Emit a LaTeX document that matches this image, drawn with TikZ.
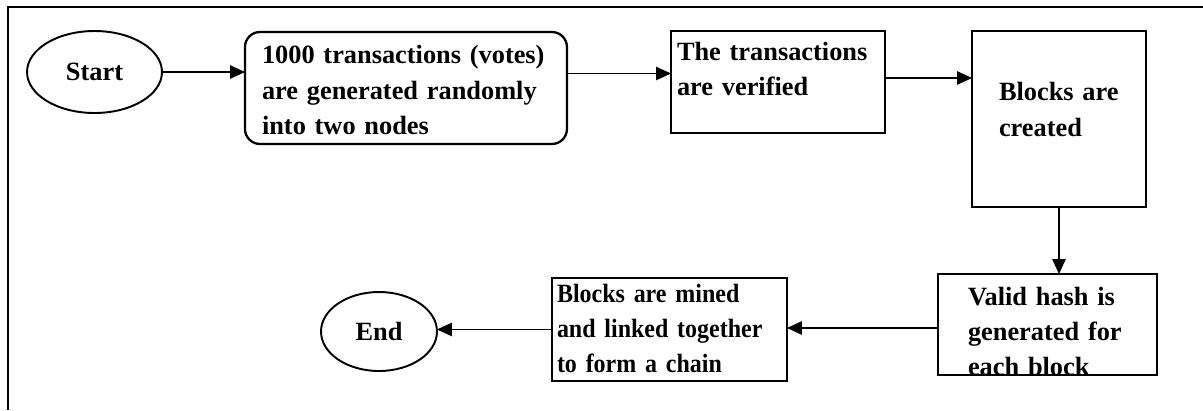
\documentclass[tikz,border=0pt]{standalone}
\usepackage{fontspec}
\setmainfont{Liberation Serif}
\newfontfamily\narrowserif{Liberation Serif}[FakeStretch=0.91]
\usetikzlibrary{arrows.meta, shapes.geometric, positioning}

\begin{document}
\begin{tikzpicture}[x=0.02cm, y=-0.02cm,
  every node/.style={font=\fontsize{15pt}{20.2pt}\selectfont\bfseries},
  narrow/.style={font=\narrowserif\fontsize{15pt}{20.2pt}\selectfont\bfseries},
  terminal/.style={draw, ellipse, line width=1.1pt, inner sep=0pt, outer sep=0pt},
  stage/.style={draw, rectangle, line width=1.3pt, anchor=north west, align=left,
    inner ysep=0pt, outer sep=0pt},
  flow/.style={-{Triangle[length=0.3cm, width=0.27cm]}, line width=0.6pt}]

% Page size
\useasboundingbox (0,0) rectangle (1203,410);

% Frame
\draw[line width=1.1pt] (8,410) -- (8,7) -- (1203,7);

% Top row
\node[terminal, minimum width=2.7cm, minimum height=1.64cm] (start) at (94.5,72) {Start};
\node[stage, rounded corners=0.3cm, text width=5.76cm, inner xsep=0.34cm,
  text height=0.64cm, text depth=1.6cm] (gen) at (245,32)
  {1000 transactions (votes)\\are generated randomly\\into two nodes};
\node[stage, text width=4.04cm, inner xsep=0.12cm,
  text height=0.58cm, text depth=1.46cm] (check) at (671,31)
  {The transactions\\are verified};
\node[stage, text width=2.4cm, inner xsep=0.54cm,
  text height=1.4cm, text depth=2.12cm] (blocks) at (972,31)
  {Blocks are\\created};

% Bottom row
\node[stage, text width=3.18cm, inner xsep=0.6cm,
  text height=0.62cm, text depth=1.4cm] (hash) at (938,274)
  {Valid hash is\\generated for\\each block};
\node[stage, narrow, text width=4.5cm, inner xsep=0.1cm,
  text height=0.48cm, text depth=1.58cm] (mined) at (552,278)
  {Blocks are mined\\and linked together\\to form a chain};
\node[terminal, minimum width=2.32cm, minimum height=1.58cm] (end) at (379,331.5) {End};

% Arrows
\coordinate (g2c) at ([yshift=0.29cm]gen.east);
\coordinate (c2b) at ([yshift=0.08cm]check.east);
\coordinate (h2m) at ([yshift=-0.07cm]hash.west);
\draw[flow] (start.east) -- (start.east -| gen.west);
\draw[flow] (g2c) -- (g2c -| check.west);
\draw[flow] (c2b) -- (c2b -| blocks.west);
\draw[flow] (blocks.south) -- (blocks.south |- hash.north);
\draw[flow] (h2m) -- (h2m -| mined.east);
\draw[flow] (mined.west) -- (mined.west -| end.east);

\end{tikzpicture}
\end{document}
